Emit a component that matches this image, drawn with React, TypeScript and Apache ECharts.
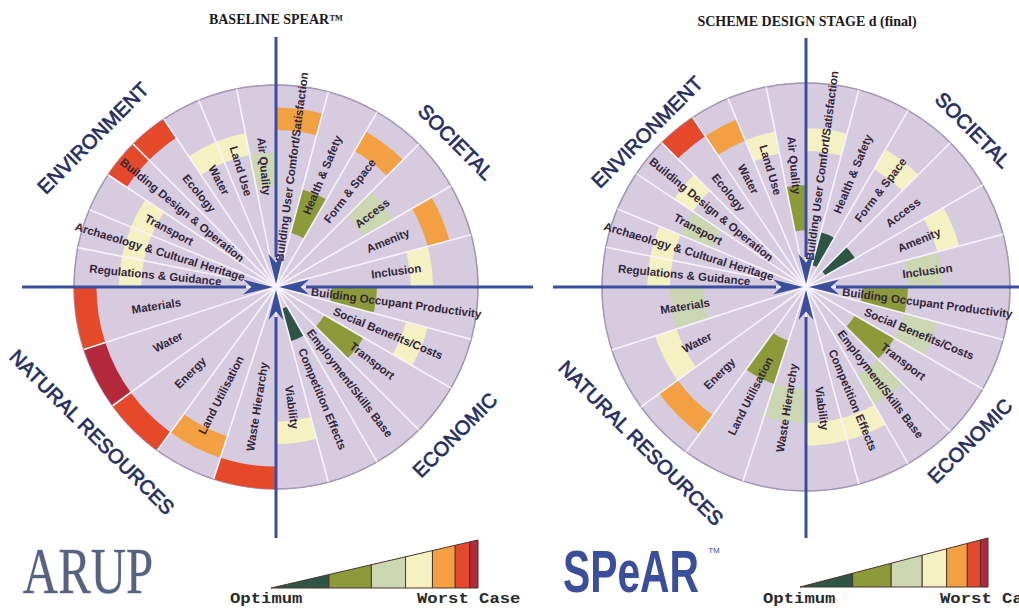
import React, { useEffect, useRef } from 'react';
import * as echarts from 'echarts';

// ---- categories (clockwise from north) ----
const societal = ['Building User Comfort/Satisfaction', 'Health & Safety', 'Form & Space', 'Access', 'Amenity', 'Inclusion'];
const economic = ['Building Occupant Productivity', 'Social Benefits/Costs', 'Transport', 'Employment/Skills Base', 'Competition Effects', 'Viability'];
const naturalResources = ['Waste Hierarchy', 'Land Utilisation', 'Energy', 'Water', 'Materials'];
const environment = ['Regulations & Guidance', 'Archaeology & Cultural Heritage', 'Transport', 'Building Design & Operation', 'Ecology', 'Water', 'Land Use', 'Air Quality'];
const quadrantNames = ['SOCIETAL', 'ECONOMIC', 'NATURAL RESOURCES', 'ENVIRONMENT'];

// ---- scores: 1 = optimum ... 7 = worst case (null = not shown) ----
const baselineSocietal = [5, 2, 5, 3, 5, 4];
const baselineEconomic = [2, 4, 2, null, 1, 4];
const baselineNatural = [6, 5, 6, 7, 6];
const baselineEnvironment = [4, 4, 4, 6, 6, 4, 4, 3];

const finalSocietal = [4, 1, 4, 1, 4, 3];
const finalEconomic = [2, 3, 2, 3, 4, 4];
const finalNatural = [3, 2, 5, 4, 3];
const finalEnvironment = [4, 4, 3, 4, 6, 5, 4, 2];

const chartTitles = ['BASELINE SPEAR\u2122', 'SCHEME DESIGN STAGE d (final)'];
const legendLabels = ['Optimum', 'Worst Case'];

// ---- style / layout ----
const levelColors = ['#2e5446', '#8c9a3a', '#cdd6b2', '#f5f1c3', '#f2a041', '#e6492a', '#b3283a'];
const levelInner = [1, 2.5, 4.5, 6, 7, 8, 8];
const levelOuter = [2.5, 4.5, 6, 7, 8, 9, 9];
const RMAX = 9;
const LABEL_R = 5.4;
const BLUE = '#3a4e9e';

const quadrants = [societal, economic, naturalResources, environment];
const allCats: string[] = [];
const catStart: number[] = [];
const catEnd: number[] = [];
quadrants.forEach((q, qi) => {
  const w = 90 / q.length;
  q.forEach((name, j) => {
    allCats.push(name);
    catStart.push(qi * 90 + j * w);
    catEnd.push(qi * 90 + (j + 1) * w);
  });
});

const baselineScores = [...baselineSocietal, ...baselineEconomic, ...baselineNatural, ...baselineEnvironment];
const finalScores = [...finalSocietal, ...finalEconomic, ...finalNatural, ...finalEnvironment];

const layouts = [
  {
    cx: 276, cy: 287, r: 202, hx: [22, 533], vy: [37, 538],
    quad: [[456, 142, -45], [455, 435, 45], [92, 432, -45], [93, 138, 45]],
    title: [276, 19],
    legend: { x0: 271, x1: 478, yb: 588, h: 48, opt: 230, worst: 417 },
  },
  {
    cx: 806, cy: 287, r: 204, hx: [553, 1019], vy: [38, 538],
    quad: [[973, 130, -45], [970, 441, 45], [641, 443, -45], [647, 132, 45]],
    title: [807, 21],
    legend: { x0: 800, x1: 988, yb: 587, h: 49, opt: 763, worst: 940 },
  },
];
const legendFractions = [0, 0.28, 0.485, 0.65, 0.78, 0.89, 0.96, 1];

function arrowHead(cx: number, cy: number, dx: number, dy: number) {
  const gap = 3, L = 30, Wd = 15;
  const tip = [cx - dx * gap, cy - dy * gap];
  const back = [cx - dx * (gap + L), cy - dy * (gap + L)];
  const notch = [cx - dx * (gap + L * 0.72), cy - dy * (gap + L * 0.72)];
  const px = -dy, py = dx;
  return {
    type: 'polygon', z: 100, silent: true,
    shape: { points: [tip, [back[0] + px * Wd / 2, back[1] + py * Wd / 2], notch, [back[0] - px * Wd / 2, back[1] - py * Wd / 2]] },
    style: { fill: BLUE },
  };
}

function buildSeries(scores: (number | null)[], pi: number) {
  const blocks = {
    type: 'custom', coordinateSystem: 'polar', polarIndex: pi, silent: true, z: 3,
    data: scores.map((lv, k) => (lv == null ? null : [k, lv])).filter((d) => d !== null),
    renderItem: (params: any, api: any) => {
      const k = api.value(0);
      const lv = api.value(1);
      const cs = params.coordSys;
      const pIn = api.coord([levelInner[lv - 1], catStart[k]]);
      const pOut = api.coord([levelOuter[lv - 1], catStart[k]]);
      const pEnd = api.coord([levelOuter[lv - 1], catEnd[k]]);
      const r0 = Math.hypot(pIn[0] - cs.cx, pIn[1] - cs.cy);
      const r = Math.hypot(pOut[0] - cs.cx, pOut[1] - cs.cy);
      const sa = Math.atan2(pOut[1] - cs.cy, pOut[0] - cs.cx);
      let ea = Math.atan2(pEnd[1] - cs.cy, pEnd[0] - cs.cx);
      if (ea < sa) ea += Math.PI * 2;
      return {
        type: 'sector',
        shape: { cx: cs.cx, cy: cs.cy, r0, r, startAngle: sa, endAngle: ea, clockwise: true },
        style: { fill: levelColors[lv - 1] },
      };
    },
  };
  const spokes = {
    type: 'custom', coordinateSystem: 'polar', polarIndex: pi, silent: true, z: 4,
    data: allCats.map((_, k) => [k, 0]),
    renderItem: (params: any, api: any) => {
      const k = api.value(0);
      const cs = params.coordSys;
      const p = api.coord([RMAX, catStart[k]]);
      return {
        type: 'line',
        shape: { x1: cs.cx, y1: cs.cy, x2: p[0], y2: p[1] },
        style: { stroke: '#f7f3fa', lineWidth: 1.6 },
      };
    },
  };
  const labels = {
    type: 'custom', coordinateSystem: 'polar', polarIndex: pi, silent: true, z: 5,
    data: allCats.map((_, k) => [k, 0]),
    renderItem: (params: any, api: any) => {
      const k = api.value(0);
      const mid = (catStart[k] + catEnd[k]) / 2;
      const p = api.coord([LABEL_R, mid]);
      const rotDeg = mid < 180 ? 90 - mid : 270 - mid;
      return {
        type: 'text',
        x: p[0], y: p[1], rotation: (rotDeg * Math.PI) / 180,
        style: {
          text: allCats[k], fill: '#33263a', fontSize: 11.5, fontWeight: 'bold',
          fontFamily: 'Liberation Sans, Arial, sans-serif', align: 'center', verticalAlign: 'middle',
        },
      };
    },
  };
  return [blocks, spokes, labels];
}

function buildGraphics() {
  const g: any[] = [];
  layouts.forEach((L, i) => {
    const { cx, cy } = L;
    // axis arrows
    g.push({ type: 'line', z: 99, silent: true, shape: { x1: cx, y1: L.vy[0], x2: cx, y2: cy - 30 }, style: { stroke: BLUE, lineWidth: 3 } });
    g.push({ type: 'line', z: 99, silent: true, shape: { x1: cx, y1: L.vy[1], x2: cx, y2: cy + 30 }, style: { stroke: BLUE, lineWidth: 3 } });
    g.push({ type: 'line', z: 99, silent: true, shape: { x1: L.hx[0], y1: cy, x2: cx - 30, y2: cy }, style: { stroke: BLUE, lineWidth: 3 } });
    g.push({ type: 'line', z: 99, silent: true, shape: { x1: L.hx[1], y1: cy, x2: cx + 30, y2: cy }, style: { stroke: BLUE, lineWidth: 3 } });
    g.push(arrowHead(cx, cy, 0, 1));
    g.push(arrowHead(cx, cy, 0, -1));
    g.push(arrowHead(cx, cy, 1, 0));
    g.push(arrowHead(cx, cy, -1, 0));
    // title
    g.push({
      type: 'text', z: 100, silent: true, x: L.title[0], y: L.title[1],
      style: { text: chartTitles[i], fill: '#1a1a1a', fontSize: 14, fontWeight: 'bold', fontFamily: 'Liberation Serif, Times New Roman, serif', align: 'center', verticalAlign: 'middle' },
    });
    // quadrant names
    L.quad.forEach((q, qi) => {
      g.push({
        type: 'text', z: 100, silent: true, x: q[0], y: q[1], rotation: (q[2] * Math.PI) / 180,
        style: { text: quadrantNames[qi], fill: '#262e62', fontSize: 20, fontFamily: 'Liberation Sans, Arial, sans-serif', align: 'center', verticalAlign: 'middle', stroke: '#262e62', lineWidth: 0.7 },
      });
    });
    // legend wedge
    const lg = L.legend;
    const wdt = lg.x1 - lg.x0;
    for (let s = 0; s < levelColors.length; s++) {
      const fa = legendFractions[s], fb = legendFractions[s + 1];
      const xa = lg.x0 + fa * wdt, xb = lg.x0 + fb * wdt;
      g.push({
        type: 'polygon', z: 100, silent: true,
        shape: { points: [[xa, lg.yb], [xb, lg.yb], [xb, lg.yb - fb * lg.h], [xa, lg.yb - fa * lg.h]] },
        style: { fill: levelColors[s], stroke: '#4a3430', lineWidth: 1 },
      });
    }
    g.push({
      type: 'text', z: 100, silent: true, x: lg.opt, y: 599, scaleX: 1.15,
      style: { text: legendLabels[0], fill: '#2a2a2a', fontSize: 15, fontWeight: 'bold', fontFamily: 'Liberation Mono, Courier New, monospace', align: 'left', verticalAlign: 'middle' },
    });
    g.push({
      type: 'text', z: 100, silent: true, x: lg.worst, y: 599, scaleX: 1.15,
      style: { text: legendLabels[1], fill: '#2a2a2a', fontSize: 15, fontWeight: 'bold', fontFamily: 'Liberation Mono, Courier New, monospace', align: 'left', verticalAlign: 'middle' },
    });
  });
  // logos
  g.push({
    type: 'text', z: 100, silent: true, x: 88, y: 571, scaleX: 0.74,
    style: { text: 'ARUP', fill: '#56627f', fontSize: 66, fontFamily: 'Liberation Serif, Times New Roman, serif', align: 'center', verticalAlign: 'middle', stroke: '#c5cad8', lineWidth: 1 },
  });
  g.push({
    type: 'text', z: 100, silent: true, x: 631, y: 572, scaleX: 0.68,
    style: { text: 'SPeAR', fill: '#3b4e9c', fontSize: 60, fontWeight: 'bold', fontFamily: 'Liberation Sans, Arial, sans-serif', align: 'center', verticalAlign: 'middle' },
  });
  g.push({
    type: 'text', z: 100, silent: true, x: 714, y: 550,
    style: { text: 'TM', fill: '#3b4e9c', fontSize: 8, fontFamily: 'Liberation Sans, Arial, sans-serif', align: 'center', verticalAlign: 'middle' },
  });
  return g;
}

export default function App() {
  const ref = useRef<HTMLDivElement>(null);
  useEffect(() => {
    if (!ref.current) return;
    const chart = echarts.init(ref.current, undefined, { renderer: 'svg' });
    const option: any = {
      animation: false,
      backgroundColor: '#ffffff',
      polar: layouts.map((L) => ({ center: [L.cx, L.cy], radius: L.r })),
      angleAxis: layouts.map((_, i) => ({
        polarIndex: i, type: 'value', min: 0, max: 360, startAngle: 90, clockwise: true,
        axisLine: { show: true, lineStyle: { color: '#a597b3', width: 1.5 } },
        axisTick: { show: false }, axisLabel: { show: false }, splitLine: { show: false },
      })),
      radiusAxis: layouts.map((_, i) => ({
        polarIndex: i, type: 'value', min: 0, max: RMAX, interval: 1,
        axisLine: { show: false }, axisTick: { show: false }, axisLabel: { show: false },
        splitLine: { show: true, lineStyle: { color: '#ab9eb8', width: 1 } },
        splitArea: { show: true, areaStyle: { color: ['#d7cbe0'] } },
      })),
      series: [...buildSeries(baselineScores, 0), ...buildSeries(finalScores, 1)],
      graphic: buildGraphics(),
    };
    chart.setOption(option);
    return () => chart.dispose();
  }, []);
  return <div ref={ref} style={{ position: 'fixed', left: 0, top: 0, width: 1019, height: 608, background: '#fff' }} />;
}
